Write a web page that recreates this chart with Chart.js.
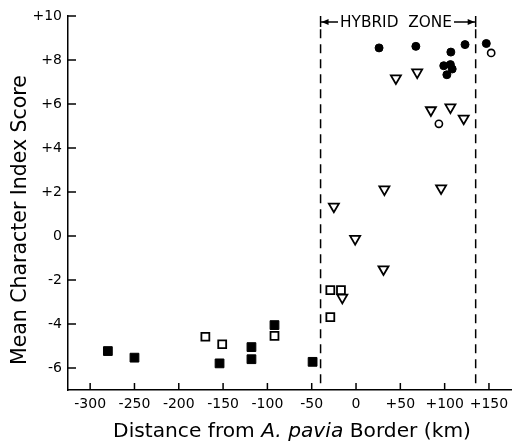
<!DOCTYPE html>
<html>
<head>
<meta charset="utf-8">
<script src="https://cdn.jsdelivr.net/npm/chart.js@4"></script>
<style>
  html, body { margin: 0; padding: 0; background: #fff; }
  #wrap { width: 512px; height: 446px; }
</style>
</head>
<body>
<div id="wrap"><canvas id="c" width="512" height="446"></canvas></div>
<script>
// ---- Data ----
const xTicks = [-300, -250, -200, -150, -100, -50, 0, 50, 100, 150];
const yTicks = [-6, -4, -2, 0, 2, 4, 6, 8, 10];

const filledSquareX = [-280, -250, -154, -118, -118, -92, -49];
const filledSquareY = [-5.23, -5.53, -5.79, -5.05, -5.6, -4.05, -5.72];

const openSquareX = [-170, -151, -92, -29, -17, -29];
const openSquareY = [-4.58, -4.92, -4.54, -2.46, -2.46, -3.69];

const triangleX = [-25, -15.5, -1, 31, 32, 96, 45, 69, 84.5, 106.5, 121.5];
const triangleY = [1.34, -2.8, -0.13, -1.51, 2.12, 2.17, 7.17, 7.44, 5.72, 5.85, 5.34];

const filledCircleX = [26, 67.5, 123, 147, 107, 99, 106.5, 108.5, 102.5];
const filledCircleY = [8.55, 8.62, 8.7, 8.75, 8.36, 7.74, 7.79, 7.59, 7.33];

const openCircleX = [93.5, 152.5];
const openCircleY = [5.1, 8.32];

const zoneStart = -40;
const zoneEnd = 135;
const zoneLabel = 'HYBRID  ZONE';
const xTitleA = 'Distance from ';
const xTitleItalic = 'A. pavia';
const xTitleB = ' Border (km)';
const yTitle = 'Mean Character Index Score';

const zip = (xs, ys) => xs.map((x, i) => ({ x: x, y: ys[i] }));
const signed = v => (v > 0 ? '+' + v : String(v));

const FONT = '"DejaVu Sans", sans-serif';

const decorPlugin = {
  id: 'decor',
  afterDraw(chart) {
    const ctx = chart.ctx;
    const xs = chart.scales.x, ys = chart.scales.y;
    const area = chart.chartArea;
    ctx.save();
    ctx.strokeStyle = '#000';
    ctx.fillStyle = '#000';
    ctx.lineWidth = 1.5;
    // inward ticks
    yTicks.forEach(v => {
      const py = ys.getPixelForValue(v);
      ctx.beginPath(); ctx.moveTo(area.left, py); ctx.lineTo(area.left + 8, py); ctx.stroke();
    });
    xTicks.forEach(v => {
      const px = xs.getPixelForValue(v);
      ctx.beginPath(); ctx.moveTo(px, area.bottom); ctx.lineTo(px, area.bottom - 7); ctx.stroke();
    });
    // dashed zone lines
    const x1 = xs.getPixelForValue(zoneStart), x2 = xs.getPixelForValue(zoneEnd);
    const yTop = ys.getPixelForValue(9.4), yBot = ys.getPixelForValue(-7);
    ctx.setLineDash([9, 6]);
    [x1, x2].forEach(px => {
      ctx.beginPath(); ctx.moveTo(px, yTop); ctx.lineTo(px, yBot); ctx.stroke();
    });
    ctx.setLineDash([]);
    // bracket
    const yb = 22;
    [x1, x2].forEach(px => {
      ctx.beginPath(); ctx.moveTo(px, 16); ctx.lineTo(px, 27); ctx.stroke();
    });
    ctx.font = '13px ' + FONT;
    let w = ctx.measureText(zoneLabel).width;
    const fs = 13 * 112 / w;
    ctx.font = fs.toFixed(2) + 'px ' + FONT;
    const tx1 = 340, tx2 = 452;
    ctx.textAlign = 'center'; ctx.textBaseline = 'middle';
    ctx.fillText(zoneLabel, (tx1 + tx2) / 2, yb + 1);
    ctx.beginPath(); ctx.moveTo(x1, yb); ctx.lineTo(tx1 - 2, yb); ctx.stroke();
    ctx.beginPath(); ctx.moveTo(tx2 + 2, yb); ctx.lineTo(x2, yb); ctx.stroke();
    ctx.beginPath(); ctx.moveTo(x1 + 1, yb); ctx.lineTo(x1 + 8, yb - 3); ctx.lineTo(x1 + 8, yb + 3); ctx.closePath(); ctx.fill();
    ctx.beginPath(); ctx.moveTo(x2 - 1, yb); ctx.lineTo(x2 - 8, yb - 3); ctx.lineTo(x2 - 8, yb + 3); ctx.closePath(); ctx.fill();
    // y title
    ctx.font = '16px ' + FONT;
    w = ctx.measureText(yTitle).width;
    const yfs = 16 * 290 / w;
    ctx.font = yfs.toFixed(2) + 'px ' + FONT;
    ctx.save();
    ctx.translate(21, 220);
    ctx.rotate(-Math.PI / 2);
    ctx.textAlign = 'center'; ctx.textBaseline = 'middle';
    ctx.fillText(yTitle, 0, 0);
    ctx.restore();
    // x title with italic part
    const measure = s => {
      ctx.font = s + 'px ' + FONT;
      const a = ctx.measureText(xTitleA).width + ctx.measureText(xTitleB).width;
      ctx.font = 'italic ' + s + 'px ' + FONT;
      return a + ctx.measureText(xTitleItalic).width;
    };
    const size = 16 * 358 / measure(16);
    const total = measure(size);
    let cx = 292 - total / 2;
    const cy = 432;
    ctx.textAlign = 'left'; ctx.textBaseline = 'middle';
    ctx.font = size.toFixed(2) + 'px ' + FONT;
    ctx.fillText(xTitleA, cx, cy); cx += ctx.measureText(xTitleA).width;
    ctx.font = 'italic ' + size.toFixed(2) + 'px ' + FONT;
    ctx.fillText(xTitleItalic, cx, cy); cx += ctx.measureText(xTitleItalic).width;
    ctx.font = size.toFixed(2) + 'px ' + FONT;
    ctx.fillText(xTitleB, cx, cy);
    ctx.restore();
  }
};

new Chart(document.getElementById('c'), {
  type: 'scatter',
  data: {
    datasets: [
      { data: zip(filledSquareX, filledSquareY), pointStyle: 'rect', pointRadius: 6.2,
        backgroundColor: '#000', borderColor: '#000', borderWidth: 1 },
      { data: zip(openSquareX, openSquareY), pointStyle: 'rect', pointRadius: 5.6,
        backgroundColor: '#fff', borderColor: '#000', borderWidth: 1.8 },
      { data: zip(triangleX, triangleY), pointStyle: 'triangle', rotation: 180, pointRotation: 180, pointRadius: 5.8,
        backgroundColor: '#fff', borderColor: '#000', borderWidth: 1.8 },
      { data: zip(filledCircleX, filledCircleY), pointStyle: 'circle', pointRadius: 4,
        backgroundColor: '#000', borderColor: '#000', borderWidth: 1 },
      { data: zip(openCircleX, openCircleY), pointStyle: 'circle', pointRadius: 3.6,
        backgroundColor: '#fff', borderColor: '#000', borderWidth: 1.6 }
    ]
  },
  options: {
    responsive: false,
    animation: false,
    events: [],
    layout: { autoPadding: false, padding: { top: 16, right: 0, left: 0, bottom: 0 } },
    plugins: { legend: { display: false }, tooltip: { enabled: false } },
    scales: {
      x: {
        type: 'linear', min: -325, max: 176,
        afterBuildTicks: s => { s.ticks = xTicks.map(v => ({ value: v })); },
        afterFit: s => { s.height = 56; s.paddingLeft = 0; s.paddingRight = 0; },
        grid: { display: false, drawTicks: false },
        border: { display: true, color: '#000', width: 1.5 },
        ticks: { callback: v => signed(v), color: '#000', padding: 6, maxRotation: 0,
                 autoSkip: false, font: { family: FONT, size: 14 } }
      },
      y: {
        type: 'linear', min: -7, max: 10,
        afterBuildTicks: s => { s.ticks = yTicks.map(v => ({ value: v })); },
        afterFit: s => { s.width = 68; s.paddingTop = 0; s.paddingBottom = 0; },
        grid: { display: false, drawTicks: false },
        border: { display: true, color: '#000', width: 1.5 },
        ticks: { callback: v => signed(v), color: '#000', padding: 6,
                 autoSkip: false, font: { family: FONT, size: 14 } }
      }
    }
  },
  plugins: [decorPlugin]
});
</script>
</body>
</html>
